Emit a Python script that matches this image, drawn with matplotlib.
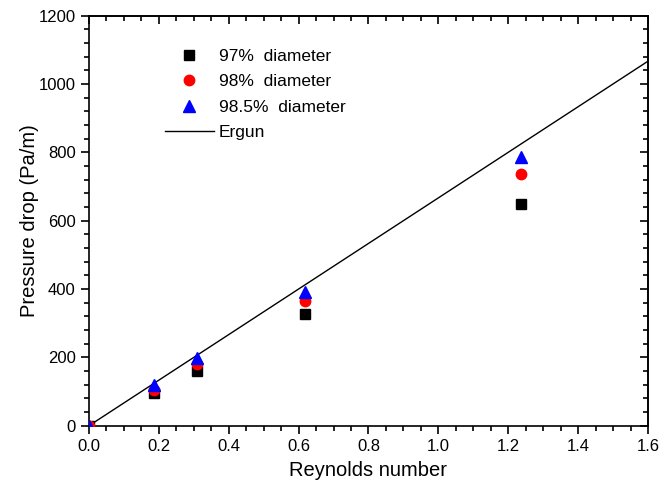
import numpy as np
import matplotlib
matplotlib.use('Agg')
import matplotlib.pyplot as plt
from matplotlib.ticker import MultipleLocator

# Reynolds number of each measurement
reynolds = [0.0, 0.185, 0.309, 0.618, 1.236]
# pressure drop (Pa/m) for each particle diameter fraction
dp_97 = [0, 95, 160, 326, 649]
dp_98 = [0, 106, 181, 366, 736]
dp_985 = [0, 119, 197, 392, 787]
# Ergun correlation line
ergun_re = [0.0, 1.6]
ergun_dp = [0, 1067]

plt.rcParams['font.family'] = ['Liberation Sans', 'DejaVu Sans']
plt.rcParams['font.size'] = 12

fig = plt.figure(figsize=(6.61, 4.92), dpi=100)
ax = fig.add_axes([0.1346, 0.1347, 0.8457, 0.8333])

ax.plot(ergun_re, ergun_dp, color='black', lw=1.0, label='Ergun', zorder=2)
ax.plot(reynolds, dp_97, 's', color='black', ms=7, ls='none', label='97%  diameter', zorder=3)
ax.plot(reynolds, dp_98, 'o', color='red', ms=7.5, ls='none', label='98%  diameter', zorder=4)
ax.plot(reynolds, dp_985, '^', color='blue', ms=8, ls='none', label='98.5%  diameter', zorder=5)

ax.set_xlim(0, 1.6)
ax.set_ylim(0, 1200)
ax.xaxis.set_major_locator(MultipleLocator(0.2))
ax.xaxis.set_minor_locator(MultipleLocator(0.05))
ax.yaxis.set_major_locator(MultipleLocator(200))
ax.yaxis.set_minor_locator(MultipleLocator(40))
ax.xaxis.set_major_formatter(matplotlib.ticker.FormatStrFormatter('%.1f'))

ax.tick_params(which='both', direction='out', top=False, right=False, width=1.2)
ax.tick_params(which='major', length=6)
ax.tick_params(which='minor', length=3.5)

# mirrored ticks on top/right pointing inward
ax2 = ax.secondary_xaxis('top')
ax2.xaxis.set_major_locator(MultipleLocator(0.2))
ax2.xaxis.set_minor_locator(MultipleLocator(0.05))
ax2.tick_params(which='both', direction='in', labeltop=False, width=1.2)
ax2.tick_params(which='major', length=6)
ax2.tick_params(which='minor', length=3.5)
ay2 = ax.secondary_yaxis('right')
ay2.yaxis.set_major_locator(MultipleLocator(200))
ay2.yaxis.set_minor_locator(MultipleLocator(40))
ay2.tick_params(which='both', direction='in', labelright=False, width=1.2)
ay2.tick_params(which='major', length=6)
ay2.tick_params(which='minor', length=3.5)

for s in ax.spines.values():
    s.set_linewidth(1.2)
ax2.spines['top'].set_linewidth(1.2)
ay2.spines['right'].set_linewidth(1.2)

ax.set_xlabel('Reynolds number', fontsize=14.5, labelpad=5)
ax.set_ylabel('Pressure drop (Pa/m)', fontsize=14.5, labelpad=0)

handles, labels = ax.get_legend_handles_labels()
order = [1, 2, 3, 0]
ax.legend([handles[i] for i in order], [labels[i] for i in order],
          loc='upper left', bbox_to_anchor=(0.136, 0.92), frameon=False,
          borderpad=0, borderaxespad=0, handlelength=2.8, handletextpad=0.3,
          labelspacing=0.6, fontsize=12.5)

fig.savefig('out.png', dpi=100)
